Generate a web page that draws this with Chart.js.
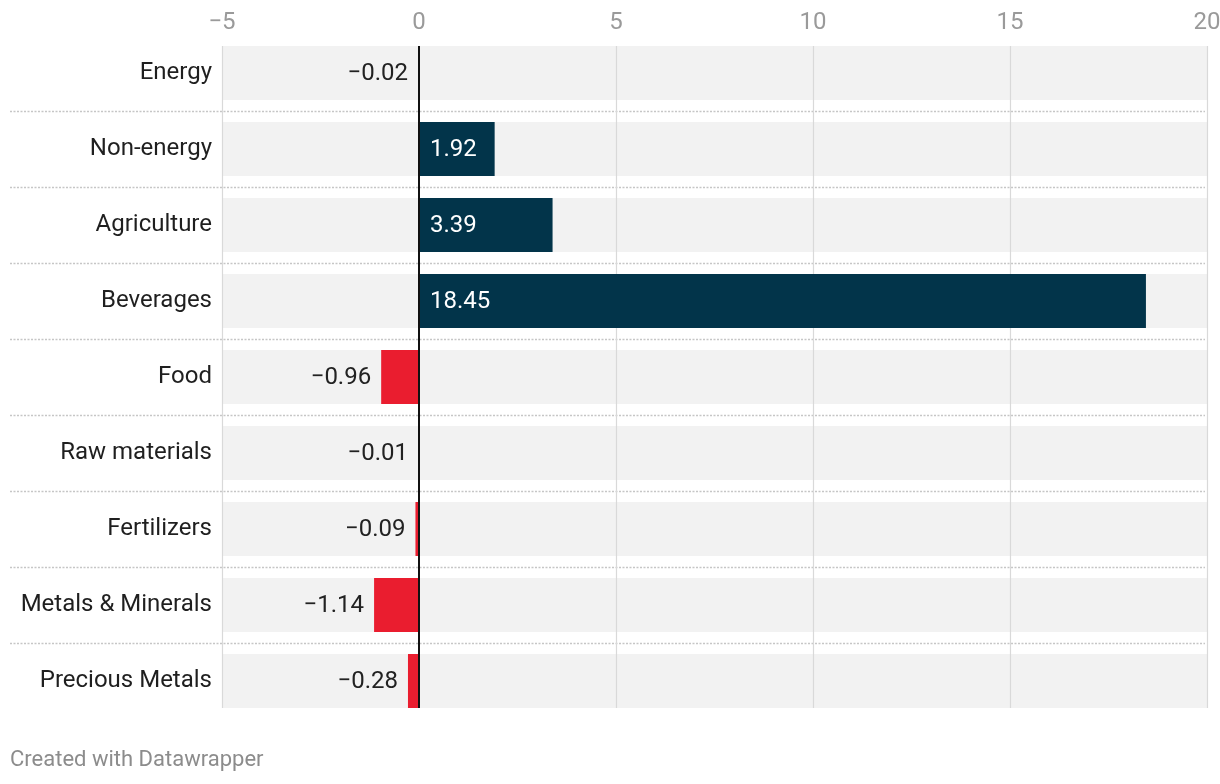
<!DOCTYPE html>
<html>
<head>
<meta charset="utf-8">
<script src="https://cdn.jsdelivr.net/npm/chart.js@4/dist/chart.umd.min.js"></script>
<style>
  html, body { margin: 0; padding: 0; background: #fff; }
  #wrap { position: relative; width: 1220px; height: 784px; }
  #footer {
    position: absolute; left: 10px; top: 746px;
    font-family: Roboto, sans-serif; font-size: 22px; color: #8c8c8c;
  }
</style>
</head>
<body>
<div id="wrap">
  <canvas id="commodityChart" width="1220" height="784"></canvas>
  <div id="footer">Created with Datawrapper</div>
</div>
<script>
// categories and values (percent change)
const categories = ['Energy', 'Non-energy', 'Agriculture', 'Beverages', 'Food',
  'Raw materials', 'Fertilizers', 'Metals & Minerals', 'Precious Metals'];
const values = [-0.02, 1.92, 3.39, 18.45, -0.96, -0.01, -0.09, -1.14, -0.28];
const xTicks = [-5, 0, 5, 10, 15, 20];

const POS_COLOR = '#02344a';
const NEG_COLOR = '#ea1d2f';
const FONT = 'Roboto, sans-serif';

function minus(v) {
  return String(v).replace('-', '\u2212');
}

// row bands, gridlines, separators and value labels
const decor = {
  id: 'decor',
  beforeDraw(chart) {
    const ctx = chart.ctx;
    const meta = chart.getDatasetMeta(0);
    const xs = chart.scales.x;
    const area = chart.chartArea;
    ctx.save();
    ctx.fillStyle = '#f2f2f2';
    let top = 0, bottom = 0;
    meta.data.forEach((bar, i) => {
      const h = bar.height;
      ctx.fillRect(area.left, bar.y - h / 2, area.right - area.left, h);
      if (i == 0) top = bar.y - h / 2;
      bottom = bar.y + h / 2;
    });
    // dotted separators between rows
    ctx.strokeStyle = '#c6c6c6';
    ctx.lineWidth = 1.3;
    ctx.setLineDash([2, 1.5]);
    for (let i = 0; i < meta.data.length - 1; i++) {
      const y = Math.round((meta.data[i].y + meta.data[i + 1].y) / 2) + 0.5;
      ctx.beginPath();
      ctx.moveTo(10, y);
      ctx.lineTo(area.right - 2, y);
      ctx.stroke();
    }
    ctx.setLineDash([]);
    // vertical gridlines
    ctx.strokeStyle = '#d9d9d9';
    ctx.lineWidth = 1.2;
    for (let t of xTicks) {
      if (t == 0) continue;
      const x = Math.round(xs.getPixelForValue(t)) + 0.5;
      ctx.beginPath();
      ctx.moveTo(x, top);
      ctx.lineTo(x, bottom);
      ctx.stroke();
    }
    ctx.restore();
  },
  afterDatasetsDraw(chart) {
    const ctx = chart.ctx;
    const meta = chart.getDatasetMeta(0);
    const xs = chart.scales.x;
    ctx.save();
    const first = meta.data[0], last = meta.data[meta.data.length - 1];
    const x0 = xs.getPixelForValue(0);
    ctx.strokeStyle = '#111';
    ctx.lineWidth = 2;
    ctx.beginPath();
    ctx.moveTo(x0, first.y - first.height / 2);
    ctx.lineTo(x0, last.y + last.height / 2);
    ctx.stroke();

    ctx.font = '24px ' + FONT;
    ctx.textBaseline = 'middle';
    meta.data.forEach((bar, i) => {
      const v = values[i];
      const label = minus(v.toFixed(2));
      if (v > 0) {
        ctx.fillStyle = '#ffffff';
        ctx.textAlign = 'left';
        ctx.fillText(label, x0 + 11, bar.y + 1);
      } else {
        ctx.fillStyle = '#222222';
        ctx.textAlign = 'right';
        ctx.fillText(label, Math.min(bar.x, x0 - 1) - 10, bar.y + 1);
      }
    });
    ctx.restore();
  }
};

const ctx = document.getElementById('commodityChart').getContext('2d');
const chart = new Chart(ctx, {
  type: 'bar',
  data: {
    labels: categories,
    datasets: [{
      data: values,
      backgroundColor: values.map(v => v >= 0 ? POS_COLOR : NEG_COLOR),
      borderWidth: 0,
      categoryPercentage: 0.71,
      barPercentage: 1.0
    }]
  },
  options: {
    indexAxis: 'y',
    responsive: false,
    animation: false,
    layout: { padding: { left: 0, right: 13, top: 1, bottom: 65 } },
    plugins: {
      legend: { display: false },
      tooltip: { enabled: false }
    },
    scales: {
      x: {
        position: 'top',
        min: -5,
        max: 20,
        afterBuildTicks(scale) {
          scale.ticks = xTicks.map(v => ({ value: v }));
        },
        afterFit(scale) { scale.height = 34; },
        grid: { display: false, drawTicks: false },
        border: { display: false },
        ticks: {
          padding: -2,
          color: '#9a9a9a',
          font: { family: FONT, size: 24 },
          callback: (v) => minus(v)
        }
      },
      y: {
        afterFit(scale) { scale.width = 222; },
        grid: { display: false, drawTicks: false },
        border: { display: false },
        ticks: {
          padding: 10,
          color: '#1f1f1f',
          font: { family: FONT, size: 24 }
        }
      }
    }
  },
  plugins: [decor]
});
</script>
</body>
</html>
